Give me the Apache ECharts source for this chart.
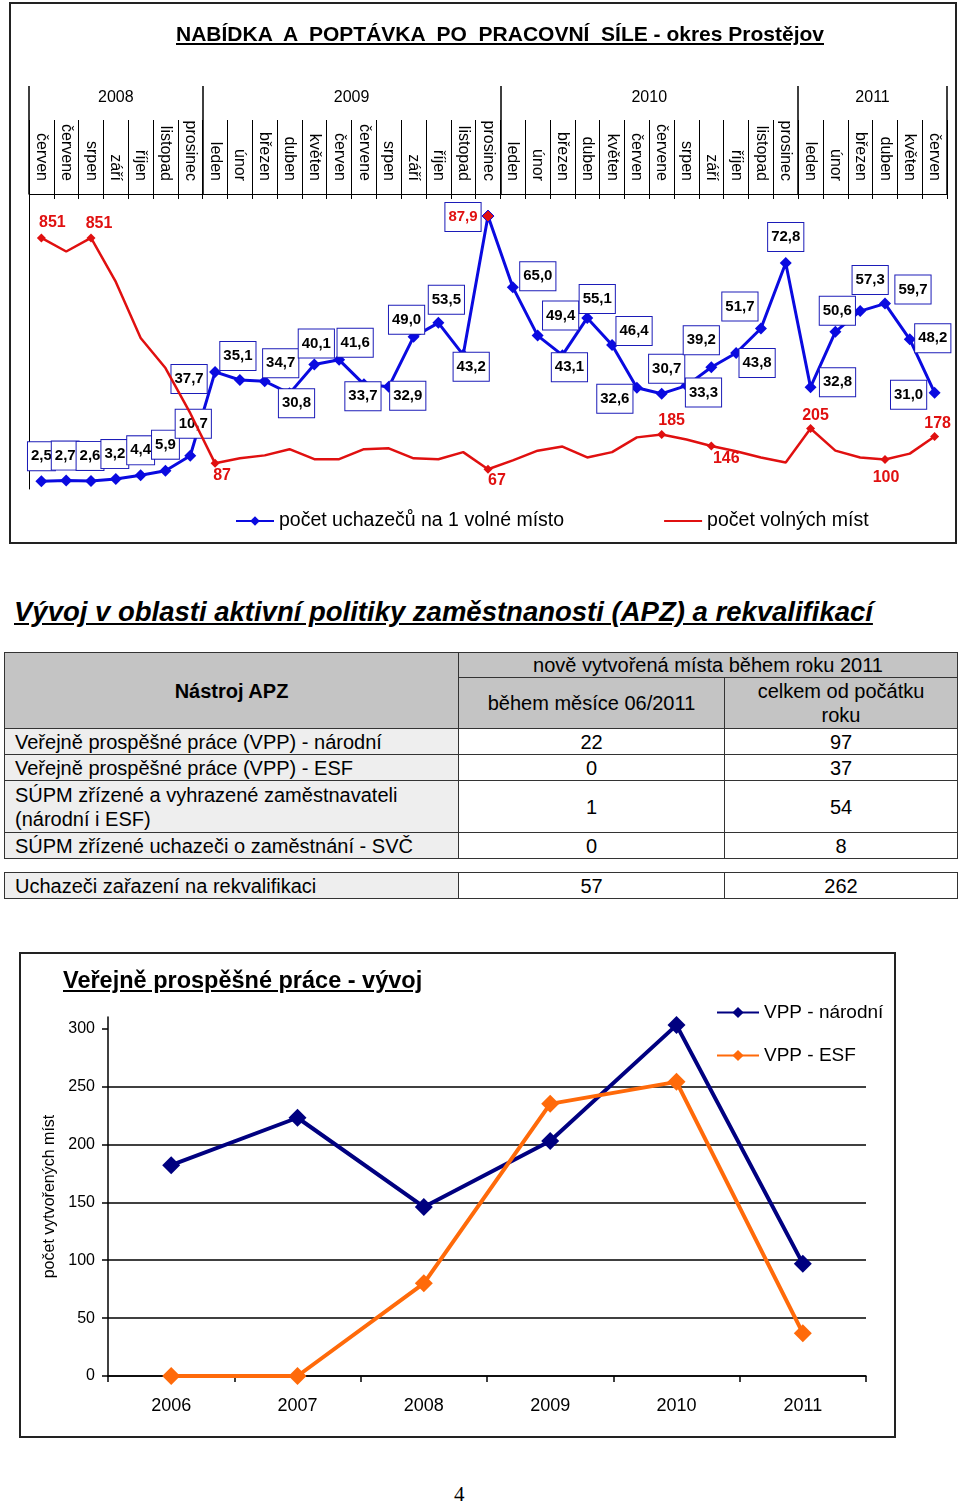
<!DOCTYPE html>
<html>
<head>
<meta charset="utf-8">
<script src="https://cdn.jsdelivr.net/npm/echarts@6/dist/echarts.min.js"></script>
<style>
  body { margin: 0; width: 960px; height: 1503px; position: relative; background: #fff;
         font-family: "Liberation Sans", Arial, sans-serif; color: #000; }
  .chart { position: absolute; left: 0; width: 960px; }
  .txt { position: absolute; white-space: pre; }
  #t1 { top: 22px; left: 0; width: 1000px; text-align: center; font-size: 21px; font-weight: bold; text-decoration: underline; }
  #t2 { top: 596px; left: 14px; font-size: 27.5px; font-weight: bold; font-style: italic; text-decoration: underline; }
  #t3 { top: 967px; left: 63px; font-size: 23.5px; font-weight: bold; text-decoration: underline; }
  #pg { top: 1482px; left: 454px; font-size: 21px; font-family: "Liberation Serif", "DejaVu Serif", serif; }
  table { position: absolute; left: 4px; width: 953px; border-collapse: collapse; font-size: 20px; table-layout: fixed; }
  td { border: 1.5px solid #333; padding: 0 0 0 10px; line-height: 24px; }
  td.n { text-align: center; padding: 0; background: #fff; }
  td.h { background: #c4c4c4; text-align: center; padding: 0; }
  td.l { background: #eeeeee; }
</style>
</head>
<body>
<div id="c1" class="chart" style="top:0;height:548px"></div>
<div id="c2" class="chart" style="top:940px;height:510px"></div>

<div id="t1" class="txt">NABÍDKA  A  POPTÁVKA  PO  PRACOVNÍ  SÍLE - okres Prostějov</div>
<div id="t2" class="txt">Vývoj v oblasti aktivní politiky zaměstnanosti (APZ) a rekvalifikací</div>
<div id="t3" class="txt">Veřejně prospěšné práce - vývoj</div>
<div id="pg" class="txt">4</div>

<table style="top:652px">
  <colgroup><col style="width:454px"><col style="width:266px"><col style="width:233px"></colgroup>
  <tr style="height:25px"><td class="h" rowspan="2" style="font-weight:bold">Nástroj APZ</td><td class="h" colspan="2">nově vytvořená místa během roku 2011</td></tr>
  <tr style="height:51px"><td class="h">během měsíce 06/2011</td><td class="h">celkem od počátku<br>roku</td></tr>
  <tr style="height:26px"><td class="l">Veřejně prospěšné práce (VPP) - národní</td><td class="n">22</td><td class="n">97</td></tr>
  <tr style="height:26px"><td class="l">Veřejně prospěšné práce (VPP) - ESF</td><td class="n">0</td><td class="n">37</td></tr>
  <tr style="height:52px"><td class="l">SÚPM zřízené a vyhrazené zaměstnavateli<br>(národní i ESF)</td><td class="n">1</td><td class="n">54</td></tr>
  <tr style="height:26px"><td class="l">SÚPM zřízené uchazeči o zaměstnání - SVČ</td><td class="n">0</td><td class="n">8</td></tr>
</table>
<table style="top:872px">
  <colgroup><col style="width:454px"><col style="width:266px"><col style="width:233px"></colgroup>
  <tr style="height:26px"><td class="l">Uchazeči zařazení na rekvalifikaci</td><td class="n">57</td><td class="n">262</td></tr>
</table>

<script>
// --- top chart data ---
const months = [
  "červen", "červene", "srpen", "září", "říjen", "listopad", "prosinec",
  "leden", "únor", "březen", "duben", "květen", "červen", "červene", "srpen", "září", "říjen", "listopad", "prosinec",
  "leden", "únor", "březen", "duben", "květen", "červen", "červene", "srpen", "září", "říjen", "listopad", "prosinec",
  "leden", "únor", "březen", "duben", "květen", "červen"
];
const years = ["2008", "2009", "2010", "2011"];
const monthsPerYear = [7, 12, 12, 6];
const applicantsPerVacancy = [
  2.5, 2.7, 2.6, 3.2, 4.4, 5.9, 10.7,
  37.7, 35.1, 34.7, 30.8, 40.1, 41.6, 33.7, 32.9, 49.0, 53.5, 43.2, 87.9,
  65.0, 49.4, 43.1, 55.1, 46.4, 32.6, 30.7, 33.3, 39.2, 43.8, 51.7, 72.8,
  32.8, 50.6, 57.3, 59.7, 48.2, 31.0
];
const vacancies = [
  851, 805, 851, 702, 512, 410, 257,
  87, 104, 114, 135, 101, 101, 135, 138, 104, 101, 125, 67,
  97, 130, 144, 107, 125, 175, 185, 168, 146, 128, 107, 90,
  205, 130, 107, 100, 120, 178
];
const vacancyLabelled = [0, 2, 7, 18, 25, 27, 31, 34, 36];

// --- bottom chart data ---
const vppYears = ["2006", "2007", "2008", "2009", "2010", "2011"];
const vppNational = [182, 223, 146, 203, 303, 97];
const vppEsf = [0, 0, 80, 235, 254, 37];
const vppTicks = [0, 50, 100, 150, 200, 250, 300];

// label placement (px offsets from the marker)
const blueOffsets = [
  [0, -25], [-1, -25], [-1, -25], [-1, -25], [0, -25], [0, -26], [3, -32],
  [-26, 7], [-2, -24], [16, -18], [7, 10], [2, -21], [16, -17], [-1, 12], [19, 9], [-7, -17], [8, -23], [8, 12], [-25, 1],
  [25, -11], [23, -20], [7, 12], [10, -19], [22, -14], [-22, 11], [5, -25], [17, 7], [-10, -27], [21, 10], [-21, -22], [0, -26],
  [27, -5], [2, -21], [10, -31], [28, -14], [23, -1], [-26, 2]
];
const redOffsets = { 0: [11, -15], 2: [8, -14], 7: [7, 12], 18: [9, 11], 25: [10, -14], 27: [15, 13], 31: [5, -13], 34: [1, 18], 36: [3, -13] };

const BLUE = "#0a0ae0";
const RED = "#e01010";
const FONT = "Liberation Sans";

const bounds = [0];
monthsPerYear.forEach((n) => bounds.push(bounds[bounds.length - 1] + n));
const yearCentres = years.map((_, i) => (bounds[i] + bounds[i + 1]) / 2);

const fmt = (v) => v.toFixed(1).replace(".", ",");

const blueData = applicantsPerVacancy.map((v, i) => {
  const item = { value: v, label: { offset: blueOffsets[i] } };
  if (v === Math.max(...applicantsPerVacancy)) {
    item.itemStyle = { color: RED, borderColor: BLUE, borderWidth: 1 };
    item.label.color = RED;
  }
  return item;
});

const redData = vacancies.map((v, i) => {
  if (vacancyLabelled.indexOf(i) < 0) return { value: v };
  return {
    value: v,
    symbol: "diamond",
    symbolSize: 9,
    label: { show: true, offset: redOffsets[i] }
  };
});

const chart1 = echarts.init(document.getElementById("c1"));
chart1.setOption({
  animation: false,
  textStyle: { fontFamily: FONT },
  graphic: [{
    type: "rect",
    shape: { x: 10, y: 3, width: 946, height: 540 },
    style: { fill: "none", stroke: "#222", lineWidth: 2 },
    silent: true
  }],
  grid: { left: 29, right: 13, top: 194, bottom: 59 },
  legend: {
    left: 235, top: 511, padding: 0, itemGap: 99, itemWidth: 38, itemHeight: 12,
    textStyle: { fontSize: 19.5, color: "#000" },
    data: [
      "počet uchazečů na 1 volné místo",
      { name: "počet volných míst", itemStyle: { opacity: 0 } }
    ]
  },
  xAxis: [
    {
      type: "category", position: "top", data: months, boundaryGap: true,
      axisLine: { show: true, onZero: false, lineStyle: { color: "#000", width: 1 } },
      axisTick: { show: true, interval: 0, length: 74, lineStyle: { color: "#000" } },
      axisLabel: { interval: 0, rotate: 90, fontSize: 16, color: "#000", margin: 13 },
      splitLine: { show: false }
    },
    {
      type: "value", position: "top", min: 0, max: bounds[bounds.length - 1],
      axisLine: { show: false, onZero: false },
      axisTick: { show: true, customValues: bounds, length: 108, lineStyle: { color: "#000", width: 1.5 } },
      axisLabel: {
        customValues: yearCentres, fontSize: 16, color: "#000", margin: 88,
        formatter: (v) => years[yearCentres.indexOf(v)] || ""
      },
      splitLine: { show: false }
    },
    {
      type: "category", position: "top", data: months, boundaryGap: true,
      axisLine: { show: false, onZero: false },
      axisTick: { show: true, interval: 0, inside: true, length: 5, lineStyle: { color: "#000" } },
      axisLabel: { show: false },
      splitLine: { show: false }
    }
  ],
  yAxis: [
    {
      type: "value", min: 0, max: 95,
      axisLine: { show: true, onZero: false, lineStyle: { color: "#000", width: 1 } },
      axisTick: { show: false }, axisLabel: { show: false }, splitLine: { show: false }
    },
    { type: "value", min: 0, max: 1000, show: false, splitLine: { show: false } }
  ],
  series: [
    {
      name: "počet uchazečů na 1 volné místo", type: "line", xAxisIndex: 0, yAxisIndex: 0,
      data: blueData, symbol: "diamond", symbolSize: 12, z: 3,
      lineStyle: { color: BLUE, width: 3 }, itemStyle: { color: BLUE },
      label: {
        show: true, position: "inside", formatter: (p) => fmt(p.value),
        fontSize: 15, fontWeight: "bold", color: "#000",
        backgroundColor: "#fff", borderColor: "#1c1cb8", borderWidth: 1, padding: [7, 3, 6, 3]
      }
    },
    {
      name: "počet volných míst", type: "line", xAxisIndex: 0, yAxisIndex: 1,
      data: redData, symbol: "none", z: 4,
      lineStyle: { color: RED, width: 2.5 }, itemStyle: { color: RED },
      label: { show: false, position: "inside", fontSize: 16, fontWeight: "bold", color: RED }
    }
  ]
});

const chart2 = echarts.init(document.getElementById("c2"));
chart2.setOption({
  animation: false,
  textStyle: { fontFamily: FONT },
  graphic: [{
    type: "rect",
    shape: { x: 20, y: 13, width: 875, height: 484 },
    style: { fill: "none", stroke: "#222", lineWidth: 2 },
    silent: true
  }],
  grid: { left: 108, right: 94, top: 77, bottom: 74 },
  legend: {
    orient: "vertical", left: 706, top: 57, itemGap: 24, itemWidth: 42, itemHeight: 14,
    padding: [6, 10], backgroundColor: "#fff", z: 10,
    textStyle: { fontSize: 19, color: "#000" },
    data: ["VPP - národní", "VPP - ESF"]
  },
  xAxis: {
    type: "category", data: vppYears, boundaryGap: true,
    axisLine: { show: true, lineStyle: { color: "#000", width: 1.5 } },
    axisTick: { show: true, interval: 0, length: 6, lineStyle: { color: "#000", width: 1.5 } },
    axisLabel: { fontSize: 18, color: "#000", margin: 21 }
  },
  yAxis: {
    type: "value", min: 0, max: 310, interval: 50,
    name: "počet vytvořených míst", nameLocation: "middle", nameRotate: 90, nameGap: 44,
    nameTextStyle: { fontSize: 16, color: "#000" },
    axisLine: { show: true, lineStyle: { color: "#000", width: 1.5 } },
    axisTick: { show: true, customValues: vppTicks, length: 6, lineStyle: { color: "#000", width: 1.5 } },
    axisLabel: { customValues: vppTicks, fontSize: 16, color: "#000", margin: 13 },
    splitLine: { show: true, showMaxLine: false, lineStyle: { color: "#000", width: 1.5 } }
  },
  series: [
    {
      name: "VPP - národní", type: "line", data: vppNational, clip: false,
      symbol: "diamond", symbolSize: 18,
      lineStyle: { color: "#000080", width: 4 }, itemStyle: { color: "#000080" }
    },
    {
      name: "VPP - ESF", type: "line", data: vppEsf, clip: false,
      symbol: "diamond", symbolSize: 18,
      lineStyle: { color: "#ff6a0a", width: 4 }, itemStyle: { color: "#ff6a0a" }
    }
  ]
});
</script>
</body>
</html>
